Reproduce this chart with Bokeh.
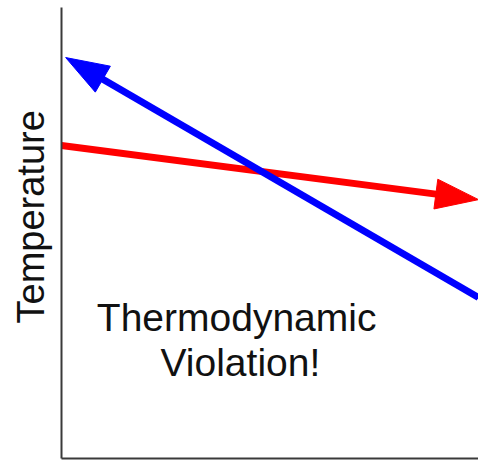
import math
from bokeh.plotting import figure
from bokeh.models import Range1d, FixedTicker, Label, Title
from bokeh.embed import file_html
from bokeh.resources import INLINE

# ---- data (arbitrary units, 0..100 on both axes) ----
red_x = [0.0, 100.0]      # warm stream: start -> arrow tip
red_y = [69.4, 57.4]
blue_x = [100.0, 1.0]     # cold stream: start -> arrow tip
blue_y = [35.7, 88.9]
y_label = "Temperature"
note_lines = ["Thermodynamic", "Violation!"]
note_x = [42.0, 42.9]
note_y = [31.3, 21.3]

FONT = "Liberation Sans"
FW, FH = 417, 451
X0, X1, Y0, Y1 = 0, 100, 0, 100
KX = FW / (X1 - X0)
KY = FH / (Y1 - Y0)

p = figure(frame_width=FW, frame_height=FH,
           x_range=Range1d(X0, X1), y_range=Range1d(Y0, Y1),
           output_backend="svg", toolbar_location=None,
           min_border_left=61, min_border_right=0,
           min_border_top=7, min_border_bottom=2)
p.outline_line_color = None
p.grid.visible = False
p.background_fill_color = "white"
p.border_fill_color = "white"

for ax in (p.xaxis[0], p.yaxis[0]):
    ax.ticker = FixedTicker(ticks=[])
    ax.axis_line_color = "#3a3a3a"
    ax.axis_line_width = 2
    ax.major_tick_line_color = None
    ax.minor_tick_line_color = None
    ax.major_label_text_font_size = "0px"
    ax.major_tick_out = 0
    ax.major_tick_in = 0

def arrow_parts(xs, ys, head_len=43, head_w=30):
    x0, y0, x1, y1 = xs[0], ys[0], xs[-1], ys[-1]
    dx = (x1 - x0) * KX
    dy = (y1 - y0) * KY
    L = math.hypot(dx, dy)
    ux, uy = dx / L, dy / L
    bx = x1 - head_len * ux / KX
    by = y1 - head_len * uy / KY
    ex = x1 - (head_len - 4) * ux / KX
    ey = y1 - (head_len - 4) * uy / KY
    px, py = -uy, ux
    hx = [x1, bx + px * head_w / 2 / KX, bx - px * head_w / 2 / KX]
    hy = [y1, by + py * head_w / 2 / KY, by - py * head_w / 2 / KY]
    return [x0, ex], [y0, ey], hx, hy

for xs, ys, col in ((red_x, red_y, "#ff0000"), (blue_x, blue_y, "#0000ff")):
    bxs, bys, hxs, hys = arrow_parts(xs, ys)
    p.line(bxs, bys, line_color=col, line_width=7, line_cap="butt")
    p.patch(hxs, hys, fill_color=col, line_color=col, line_width=1)

for txt, tx, ty in zip(note_lines, note_x, note_y):
    p.add_layout(Label(x=tx, y=ty, text=txt, text_align="center",
                       text_baseline="alphabetic", text_font=FONT,
                       text_font_size="39px", text_color="#111111"))

t = Title(text=y_label, align="left", offset=135, standoff=16,
          vertical_align="top", text_font=FONT,
          text_font_size="38px", text_font_style="normal",
          text_color="#111111")
p.add_layout(t, "left")

open("out.html", "w").write(file_html(p, INLINE))
